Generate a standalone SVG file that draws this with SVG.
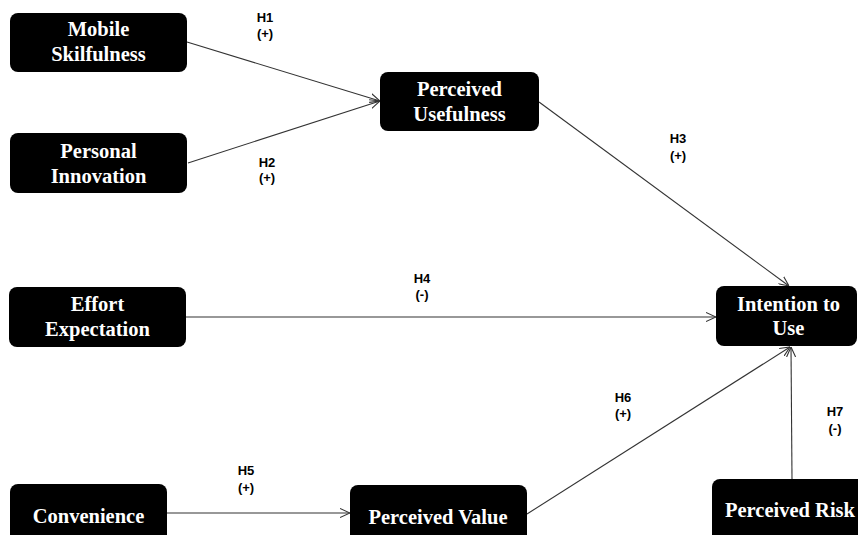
<svg xmlns="http://www.w3.org/2000/svg" width="858" height="535" viewBox="0 0 858 535">
<defs>
<marker id="arr" viewBox="0 0 10 10" refX="10" refY="5" markerWidth="10" markerHeight="10" markerUnits="userSpaceOnUse" orient="auto">
<path d="M0,0.5 L10,5 L0,9.5" fill="none" stroke="#333" stroke-width="1.1"/>
</marker>
<style>
.box{fill:#000;}
.nt{font-family:"Liberation Serif","Times New Roman",serif;font-weight:bold;font-size:20.5px;fill:#fff;text-anchor:middle;}
.lbl{font-family:"Liberation Sans",Arial,sans-serif;font-weight:bold;font-size:13px;fill:#000;text-anchor:middle;}
.c{stroke:#333;stroke-width:1.1;fill:none;marker-end:url(#arr);}
</style>
</defs>
<rect width="858" height="535" fill="#fff"/>
<g id="connectors">
<path class="c" d="M187,42 L380,101"/>
<path class="c" d="M188,163 L380,101"/>
<path class="c" d="M539,102 L789,286"/>
<path class="c" d="M186,317 L716,317"/>
<path class="c" d="M167,513 L350,513"/>
<path class="c" d="M527,514 L790,347"/>
<path class="c" d="M792,479 L791,347"/>
</g>
<g id="labels">
<text class="lbl" x="265" y="22">H1</text><text class="lbl" x="265" y="38">(+)</text>
<text class="lbl" x="267" y="167">H2</text><text class="lbl" x="267" y="182">(+)</text>
<text class="lbl" x="678" y="143">H3</text><text class="lbl" x="678" y="160">(+)</text>
<text class="lbl" x="422" y="283">H4</text><text class="lbl" x="422" y="299">(-)</text>
<text class="lbl" x="246" y="475">H5</text><text class="lbl" x="246" y="492">(+)</text>
<text class="lbl" x="623" y="402">H6</text><text class="lbl" x="623" y="418">(+)</text>
<text class="lbl" x="835" y="416">H7</text><text class="lbl" x="835" y="433">(-)</text>
</g>
<g id="mobile-skilfulness">
<rect class="box" x="10" y="13" width="177" height="59" rx="8"/>
<text class="nt" x="98.5" y="36">Mobile</text>
<text class="nt" x="98.5" y="61">Skilfulness</text>
</g>
<g id="personal-innovation">
<rect class="box" x="10" y="133" width="177" height="60" rx="8"/>
<text class="nt" x="98.5" y="158">Personal</text>
<text class="nt" x="98.5" y="183">Innovation</text>
</g>
<g id="perceived-usefulness">
<rect class="box" x="380" y="72" width="159" height="59" rx="8"/>
<text class="nt" x="459.5" y="96">Perceived</text>
<text class="nt" x="459.5" y="121">Usefulness</text>
</g>
<g id="effort-expectation">
<rect class="box" x="9" y="287" width="177" height="60" rx="8"/>
<text class="nt" x="97.5" y="311">Effort</text>
<text class="nt" x="97.5" y="336">Expectation</text>
</g>
<g id="intention-to-use">
<rect class="box" x="716" y="286" width="141" height="60" rx="8"/>
<text class="nt" x="788.5" y="311">Intention to</text>
<text class="nt" x="788.5" y="335">Use</text>
</g>
<g id="convenience">
<rect class="box" x="10" y="484" width="157" height="62" rx="8"/>
<text class="nt" x="88.5" y="523">Convenience</text>
</g>
<g id="perceived-value">
<rect class="box" x="350" y="485" width="177" height="62" rx="8"/>
<text class="nt" x="438" y="524">Perceived Value</text>
</g>
<g id="perceived-risk">
<rect class="box" x="712" y="479" width="160" height="70" rx="8"/>
<text class="nt" x="725" y="517" style="text-anchor:start">Perceived Risk</text>
</g>
</svg>
